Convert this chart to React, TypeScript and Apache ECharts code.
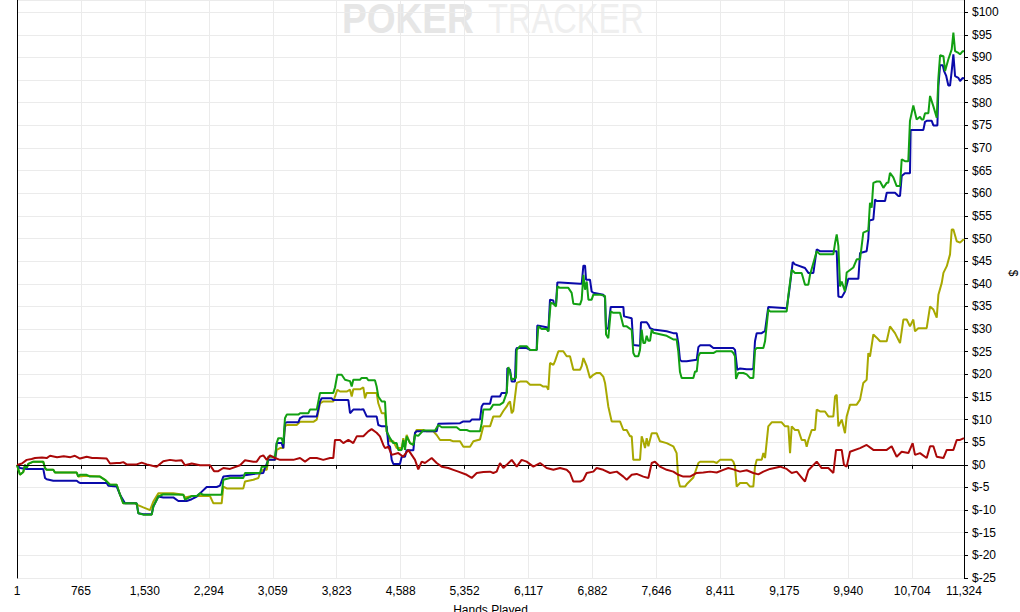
import React, { useEffect, useRef } from "react";
import * as echarts from "echarts";

const X_TICK_LABELS = ["1", "765", "1,530", "2,294", "3,059", "3,823", "4,588", "5,352", "6,117", "6,882", "7,646", "8,411", "9,175", "9,940", "10,704", "11,324"];
const X_MIN = 1;
const X_MAX = 11324;
const X_STEP = 764.54;
const Y_MIN = -25;
const Y_MAX = 102.7;
const Y_STEP = 5;

const BLUE: [number, number][] = [[1,0],[37,-0.7],[117,-0.9],[315,-0.9],[336,-2.9],[356,-3.2],[435,-3.5],[715,-3.5],[734,-3.8],[754,-4],[1073,-4],[1093,-4.6],[1193,-4.8],[1233,-6.6],[1292,-8.5],[1432,-8.5],[1452,-10.7],[1511,-10.9],[1612,-10.9],[1631,-9.2],[1691,-7],[1750,-7.2],[1870,-7.2],[1930,-8],[2030,-8],[2090,-7.6],[2150,-7],[2189,-6.3],[2269,-4.9],[2389,-4.9],[2428,-4.6],[2468,-2.6],[2548,-2.4],[2668,-2.4],[2727,-2.3],[2827,-2.0],[2946,-1.8],[2966,-0.7],[3006,1.1],[3086,1.1],[3106,4.8],[3166,4.8],[3185,3.7],[3205,9.2],[3226,9.4],[3365,9.4],[3385,10.3],[3424,10.7],[3585,10.7],[3624,14],[3644,14.7],[3764,14.7],[3783,14.3],[3963,14.3],[3983,11.4],[4022,12.2],[4102,12.2],[4142,12.3],[4182,10.7],[4301,10.7],[4321,8.8],[4362,8.5],[4421,8.5],[4441,4.4],[4461,4.0],[4481,1.1],[4500,0.2],[4580,0.2],[4601,1.8],[4640,1.8],[4660,3.2],[4740,3.2],[4760,7.1],[4779,7.4],[5019,7.4],[5039,9.1],[5298,9.2],[5338,9.6],[5418,9.6],[5438,10],[5537,10],[5557,12.9],[5577,13.5],[5657,13.5],[5677,15.1],[5776,15.1],[5796,15.9],[5856,15.9],[5864,21.4],[5896,21],[5916,18.4],[5955,18.4],[5967,25.4],[5976,25.8],[6095,25.8],[6135,25.4],[6215,25.4],[6222,30.8],[6334,30.4],[6354,29.5],[6374,36.5],[6414,36.3],[6422,35.4],[6446,35.6],[6462,40.3],[6494,40.3],[6733,40],[6753,40],[6773,44],[6793,44],[6805,40.9],[6852,40.9],[6872,38.3],[6892,38],[7011,37.6],[7032,36.9],[7044,29.9],[7071,30.3],[7100,34.9],[7251,34.9],[7259,32.8],[7351,32.4],[7370,26.5],[7450,26.3],[7462,31.5],[7530,31.5],[7550,31],[7570,30.2],[7609,29.9],[7769,29.5],[7848,29.1],[7888,29.1],[7908,26.9],[7928,23.2],[7948,22.9],[8008,22.9],[8128,23.2],[8148,26],[8168,26.4],[8287,26.4],[8327,25.8],[8566,25.8],[8586,25.4],[8613,21],[8646,21.3],[8726,21.1],[8785,21.1],[8805,21.3],[8825,27.3],[8845,29.1],[8905,29.1],[8945,29.6],[8984,34.9],[9204,34.6],[9224,37],[9244,39.8],[9276,44.8],[9303,44.3],[9423,43.5],[9463,42.4],[9523,42.4],[9563,47.6],[9602,47.2],[9802,47.2],[9822,37.2],[9862,37],[9901,38.3],[9941,41.1],[10061,41.1],[10081,46.8],[10160,47.2],[10180,50],[10192,54],[10240,54.2],[10260,58.6],[10280,58.3],[10380,58.3],[10400,60.1],[10499,60.1],[10539,59.4],[10559,59.4],[10579,63.8],[10618,64.4],[10678,64.4],[10686,74],[10838,74],[10858,75.8],[10878,76],[10938,76],[10958,75],[11006,75],[11018,83.7],[11038,88.3],[11070,88.3],[11086,87],[11110,86],[11137,83.8],[11157,83.8],[11177,87],[11197,90.7],[11217,85.9],[11257,85.5],[11277,84.8],[11309,85.5],[11324,85.3]];

const GREEN: [number, number][] = [[1,0],[37,-2.2],[76,-1.6],[97,0],[117,-0.7],[136,0.2],[196,0.7],[315,0.7],[336,-0.7],[356,-1.1],[435,-1.1],[455,-1.7],[715,-1.7],[734,-2.6],[754,-2.2],[834,-2.2],[874,-2.6],[993,-2.6],[1053,-3.3],[1113,-4.4],[1193,-4.4],[1233,-6.6],[1272,-8.5],[1432,-8.5],[1452,-10.7],[1511,-11],[1612,-11],[1631,-9.2],[1691,-7],[1750,-6.5],[1990,-6.6],[2010,-7.7],[2090,-6.9],[2150,-6.9],[2189,-6.3],[2229,-6.6],[2448,-6.6],[2468,-3.3],[2548,-2.9],[2707,-2.9],[2727,-1.8],[2907,-1.8],[2927,-0.4],[2987,-0.4],[3006,1.8],[3086,1.8],[3106,4.8],[3125,5.9],[3166,5.9],[3185,4.6],[3205,10.3],[3226,11.1],[3365,11.1],[3385,11.4],[3484,11.4],[3504,12.2],[3585,12.2],[3624,15.9],[3783,15.9],[3803,17.1],[3831,19.9],[3883,19.9],[3923,18.8],[3983,18.5],[4003,17.3],[4022,18.8],[4102,18.8],[4122,19.2],[4182,19.2],[4201,18.7],[4281,18.7],[4301,17.3],[4321,15.1],[4362,14],[4401,14],[4421,7.4],[4461,5.9],[4500,4.8],[4541,4.8],[4560,3.3],[4601,3.3],[4620,5.5],[4640,3.3],[4660,6.3],[4700,4.8],[4740,4.4],[4760,6.6],[4799,6.4],[4859,7.6],[4999,7.6],[5039,8.8],[5079,8.3],[5258,8.3],[5298,7.7],[5378,7.7],[5418,7.4],[5537,7.4],[5557,9.2],[5577,12.2],[5657,12.2],[5696,13.3],[5776,13.3],[5816,13.8],[5856,15.9],[5876,21.6],[5896,20.5],[5916,18.8],[5967,19.2],[5976,25.4],[6015,26.2],[6095,26.2],[6135,25.4],[6215,25.4],[6234,30.6],[6275,30],[6334,30],[6354,29.5],[6382,35.8],[6414,35.6],[6446,35],[6462,39.4],[6494,39.1],[6593,39.1],[6633,38],[6653,35.6],[6733,35.4],[6753,36.5],[6773,42],[6793,38.7],[6813,40.5],[6833,36.5],[6872,36.5],[6892,37.6],[6972,37.6],[7032,37.3],[7044,28.8],[7071,28],[7100,33.9],[7131,33.6],[7211,33.6],[7251,30.6],[7291,30.6],[7351,29.8],[7370,24.7],[7390,24],[7430,24],[7450,25.4],[7470,29.9],[7490,26.9],[7510,26.9],[7530,28.5],[7550,27.4],[7570,27.4],[7590,29.9],[7609,29.2],[7769,28.5],[7848,27.7],[7888,27.7],[7908,25],[7928,20.5],[7948,19.2],[8088,19.2],[8108,20.6],[8128,20.6],[8148,24],[8168,24.7],[8327,24.7],[8367,25.1],[8546,25.1],[8566,24.7],[8586,24],[8598,19],[8626,20.3],[8686,20.3],[8726,20],[8765,19.2],[8805,19.2],[8825,25.4],[8845,25.8],[8925,25.8],[8945,27.3],[8984,34.3],[9005,33.9],[9204,33.9],[9224,37.5],[9264,43.1],[9303,42.4],[9383,42.4],[9423,39.8],[9463,39.8],[9483,42],[9563,47.2],[9602,46.5],[9762,46.5],[9782,49],[9802,50.9],[9822,48.3],[9842,39.4],[9862,40.5],[9901,38.3],[9921,42.5],[10001,43.6],[10041,45.4],[10081,45.4],[10120,51.3],[10180,51.8],[10200,57.9],[10220,56.8],[10240,62.3],[10280,62.6],[10320,62.6],[10360,61.2],[10400,62.3],[10419,62.3],[10439,64.5],[10479,63.5],[10519,61.6],[10559,61.6],[10579,67.5],[10618,67.1],[10658,67.1],[10678,76],[10718,79.4],[10758,76.3],[10798,76.9],[10818,76.3],[10838,76.3],[10858,77.7],[10898,77.7],[10918,81.5],[10958,79.2],[10998,76.7],[11018,85.5],[11038,90.5],[11078,90.3],[11098,87],[11137,89.6],[11177,91.8],[11197,95.5],[11217,91.4],[11257,91],[11277,90.7],[11309,91.4],[11324,91.4]];

const OLIVE: [number, number][] = [[1,0],[37,-2.2],[76,-1.6],[97,0],[117,-0.7],[136,0.2],[196,0.7],[315,0.7],[336,-0.7],[356,-1.1],[435,-1.1],[455,-1.7],[715,-1.7],[734,-2.6],[834,-2.4],[993,-2.6],[1053,-3.3],[1113,-4.4],[1193,-4.4],[1233,-6.6],[1272,-8.5],[1412,-8.5],[1432,-8.8],[1511,-9.4],[1592,-10],[1631,-8.1],[1691,-6.3],[1870,-6.3],[1990,-6.6],[2010,-7.2],[2090,-6.9],[2309,-6.9],[2349,-8.5],[2448,-8.5],[2468,-4.8],[2508,-5.2],[2707,-5.2],[2727,-3.7],[2827,-3.3],[2887,-2.9],[2907,-1.8],[2946,-1.1],[2987,-1.1],[3006,1.1],[3086,1.1],[3106,3.3],[3146,3.7],[3185,3.7],[3205,8.5],[3226,8.8],[3345,8.8],[3385,9.5],[3544,9.5],[3585,10],[3624,13.6],[3663,14],[3783,14],[3803,15.1],[3831,16.6],[3863,16.2],[3943,16.2],[3983,16.6],[4003,15.1],[4022,16.7],[4102,16.7],[4142,17.1],[4162,14.7],[4182,15.9],[4301,15.9],[4321,13.6],[4362,11.4],[4401,11.4],[4421,7.4],[4461,5.2],[4500,5.2],[4541,3.7],[4601,3.7],[4620,5.9],[4640,4],[4660,6.6],[4700,4.8],[4740,4.4],[4760,6.9],[4779,7.7],[4859,7.7],[4899,7.4],[4979,7.4],[5019,6.6],[5059,5.5],[5178,5.5],[5218,5.2],[5298,5.2],[5338,4],[5418,4],[5458,5.2],[5537,5.6],[5577,8.5],[5657,8.5],[5696,10.7],[5776,10.7],[5816,11.9],[5856,12.9],[5876,13.6],[5896,14],[5916,11.4],[5935,11.9],[5976,18.1],[6015,18.4],[6095,18.4],[6135,17.7],[6255,17.7],[6294,17.3],[6334,17.3],[6354,16.6],[6374,22.5],[6414,22.1],[6434,22.9],[6474,25.1],[6533,25.1],[6573,24],[6613,24],[6653,21],[6733,21],[6753,21.8],[6773,23.6],[6813,21.8],[6852,19.2],[6892,19.9],[6932,20.3],[6972,20.3],[7011,19.5],[7032,18.1],[7071,12.9],[7111,9.6],[7211,9.6],[7251,7.7],[7291,7.7],[7331,6.3],[7351,6.3],[7370,1.1],[7450,1.1],[7470,6.3],[7490,5.2],[7510,3.7],[7530,5.9],[7550,4.1],[7590,7],[7649,7],[7689,5.2],[7769,4.8],[7848,4.1],[7888,2.6],[7908,-3.3],[7928,-4.8],[7988,-4.8],[8008,-4.3],[8088,-2.8],[8148,0.4],[8168,0.7],[8327,0.7],[8367,0.4],[8407,1.1],[8546,1.1],[8566,0.7],[8586,-0.4],[8606,-4.8],[8646,-4],[8726,-4],[8765,-4.8],[8805,-4.8],[8825,-0.4],[8845,1.1],[8905,1.1],[8925,2.6],[8945,1.5],[8984,8.5],[9025,9.4],[9144,9.4],[9184,8.5],[9224,8.5],[9244,2.6],[9264,8.5],[9303,7.7],[9343,7.7],[9383,5.5],[9423,5.5],[9443,4],[9463,5.5],[9503,7.7],[9543,7.7],[9563,12.2],[9602,11.8],[9662,11.8],[9702,10.7],[9762,10.7],[9782,15.1],[9802,15.5],[9822,8.5],[9862,10],[9901,7],[9921,10.7],[9961,13.3],[10041,13.3],[10081,14.4],[10120,18.1],[10160,18.8],[10180,24.7],[10200,23.9],[10240,28.8],[10280,28.1],[10320,27.3],[10400,27.3],[10439,30.6],[10499,29.1],[10559,26.9],[10599,32.1],[10639,32.1],[10678,30.6],[10718,32.1],[10738,29.5],[10778,30.2],[10878,30.2],[10918,35],[10958,34.3],[10998,32.5],[11018,37.6],[11058,40.2],[11078,42.4],[11118,43.9],[11157,46.5],[11177,52],[11197,52],[11237,49.4],[11277,49.1],[11317,49.8],[11324,49.6]];

const RED: [number, number][] = [[1,0],[60,0.3],[117,1.1],[176,1.3],[216,1.5],[300,1.6],[356,1.5],[396,2.0],[480,1.7],[560,1.9],[640,1.7],[694,2.0],[754,1.4],[834,1.8],[900,1.5],[954,1.5],[1073,1.4],[1113,0.3],[1193,0.4],[1233,0.4],[1272,0.6],[1312,0.1],[1432,0.1],[1492,0.5],[1552,0.1],[1620,-0.2],[1671,-0.4],[1750,0.8],[1830,1.1],[1900,0.9],[1970,1.0],[2010,-0.1],[2090,0.3],[2189,-0.1],[2309,-0.1],[2357,-1.4],[2408,-1.4],[2468,-0.7],[2548,-0.9],[2668,-0.1],[2727,1.0],[2827,0.7],[2867,0.7],[2907,1.8],[2946,2.1],[2987,1.1],[3026,2.1],[3086,1.5],[3146,1.1],[3305,1.1],[3385,1.5],[3445,0.7],[3504,1.5],[3585,1.5],[3663,1.1],[3743,1.5],[3783,1.5],[3803,5.5],[3863,5.5],[3903,4.8],[3963,5.5],[4022,4.8],[4063,6.3],[4142,6.3],[4201,7.4],[4241,7.9],[4301,7.1],[4341,6.3],[4381,4.4],[4401,3.7],[4441,4],[4481,2.2],[4560,2.6],[4620,1.8],[4680,3.3],[4720,2.2],[4760,1.1],[4799,-1.0],[4840,0.7],[4879,0.4],[4959,1.5],[5019,0.4],[5079,-0.4],[5158,-0.7],[5218,-1.1],[5278,-1.5],[5378,-2.2],[5438,-2.9],[5498,-1.8],[5577,-1.6],[5657,-1.5],[5696,-1.8],[5736,-1.5],[5776,0.4],[5816,-0.7],[5856,0],[5916,1.1],[5976,-0.4],[6035,1.1],[6095,0.7],[6175,-0.4],[6255,0.4],[6334,-0.7],[6414,-1.1],[6494,-0.7],[6573,-1.1],[6613,-1.8],[6653,-3.7],[6733,-3.7],[6773,-3.3],[6813,-1.8],[6892,-1.5],[6932,-0.7],[7011,-1.1],[7091,-1.8],[7172,-1.5],[7251,-2.6],[7291,-3.3],[7351,-2.2],[7410,-2.0],[7490,-2.6],[7550,-2.9],[7590,0.4],[7629,0.7],[7689,-0.4],[7769,-1.1],[7848,-1.5],[7908,-2.2],[7968,-2.6],[8048,-2.6],[8128,-1.8],[8207,-1.7],[8287,-1.5],[8367,-1.7],[8446,-1.1],[8506,-0.7],[8566,-1.0],[8646,-1.5],[8726,-1.2],[8805,-1.8],[8865,-2.1],[8925,-1.5],[9005,-0.9],[9124,-0.4],[9204,-0.9],[9264,-1.8],[9323,-1.5],[9423,-3.7],[9463,-1.2],[9563,0.7],[9622,-0.7],[9702,-0.7],[9762,-1.8],[9794,3.3],[9862,3.3],[9889,0],[9921,-0.4],[9961,2.9],[10081,3.7],[10160,4.4],[10240,3.3],[10400,3.3],[10459,4.1],[10519,1.8],[10579,2.9],[10659,2.6],[10710,4.8],[10738,2.2],[10798,2.6],[10878,1.5],[10918,4.1],[10958,4.1],[10998,1.8],[11078,1.5],[11118,3.3],[11197,3.3],[11237,5.5],[11277,5.5],[11324,5.9]];

const FONT = "Liberation Sans, Arial, sans-serif";

export default function App() {
  const ref = useRef<HTMLDivElement>(null);

  useEffect(() => {
    if (!ref.current) return;
    const chart = echarts.init(ref.current, undefined, { renderer: "svg" });

    const line = (name: string, data: [number, number][], color: string, z: number, extra: any = {}) => ({
      type: "line",
      name,
      data,
      symbol: "none",
      showSymbol: false,
      smooth: false,
      z,
      lineStyle: { color, width: 2 },
      itemStyle: { color },
      emphasis: { disabled: true },
      animation: false,
      ...extra,
    });

    chart.setOption({
      animation: false,
      backgroundColor: "#ffffff",
      grid: { left: 17, right: 56, top: 0, bottom: 34, containLabel: false, outerBoundsMode: "none" },
      graphic: [
        {
          type: "text",
          x: 342,
          y: 18,
          scaleX: 0.883,
          z: -10,
          silent: true,
          style: { text: "POKER", fill: "#e6e6e6", font: "bold 42px " + FONT, textAlign: "left", textVerticalAlign: "middle" },
        },
        {
          type: "text",
          x: 488,
          y: 18,
          scaleX: 0.777,
          z: -10,
          silent: true,
          style: { text: "TRACKER", fill: "#efefef", font: "42px " + FONT, textAlign: "left", textVerticalAlign: "middle" },
        },
        {
          type: "text",
          x: 1013,
          y: 273,
          rotation: -Math.PI / 2,
          silent: true,
          style: { text: "$", fill: "#000", font: "12px " + FONT, textAlign: "center", textVerticalAlign: "middle" },
        },
      ],
      xAxis: {
        type: "value",
        min: X_MIN,
        max: X_MAX,
        interval: X_STEP,
        name: "Hands Played",
        nameLocation: "middle",
        nameGap: 26,
        nameTextStyle: { color: "#000", fontFamily: FONT, fontSize: 12 },
        axisLine: { show: true, lineStyle: { color: "#000", width: 1 } },
        axisTick: { show: true, length: 4, lineStyle: { color: "#000" } },
        axisLabel: {
          color: "#000",
          fontFamily: FONT,
          fontSize: 12,
          margin: 7,
          showMinLabel: true,
          showMaxLabel: true,
          formatter: (v: number) => {
            const i = Math.round((v - X_MIN) / X_STEP);
            return X_TICK_LABELS[i] ?? "";
          },
        },
        splitLine: { show: true, lineStyle: { color: "#ebebeb", width: 1 } },
      },
      yAxis: [
        {
          type: "value",
          position: "right",
          min: Y_MIN,
          max: Y_MAX,
          interval: Y_STEP,
          axisLine: { show: true, lineStyle: { color: "#000", width: 1 } },
          axisTick: { show: true, length: 4, lineStyle: { color: "#000" } },
          axisLabel: {
            color: "#000",
            fontFamily: FONT,
            fontSize: 12,
            margin: 8,
            showMaxLabel: false,
            formatter: (v: number) => {
              const r = Math.round(v);
              if (Math.abs(v - r) > 1e-6 || r % 5 !== 0 || r > 100) return "";
              return "$" + r;
            },
          },
          splitLine: { show: true, lineStyle: { color: "#ebebeb", width: 1 } },
        },
        {
          type: "value",
          position: "left",
          min: Y_MIN,
          max: Y_MAX,
          interval: Y_STEP,
          axisLine: { show: true, lineStyle: { color: "#000", width: 1 } },
          axisTick: { show: false },
          axisLabel: { show: false },
          splitLine: { show: false },
        },
      ],
      series: [
        line("olive", OLIVE, "#a8a800", 2),
        line("blue", BLUE, "#0a0aaa", 3, {
          markLine: {
            silent: true,
            symbol: ["none", "none"],
            label: { show: false },
            animation: false,
            lineStyle: { color: "#000", width: 1, type: "solid" },
            data: [{ yAxis: 0 }],
          },
        }),
        line("green", GREEN, "#12a012", 4),
        line("red", RED, "#aa0808", 5),
      ],
    });

    return () => chart.dispose();
  }, []);

  return <div ref={ref} style={{ position: "absolute", left: 0, top: 0, width: 1020, height: 612 }} />;
}
